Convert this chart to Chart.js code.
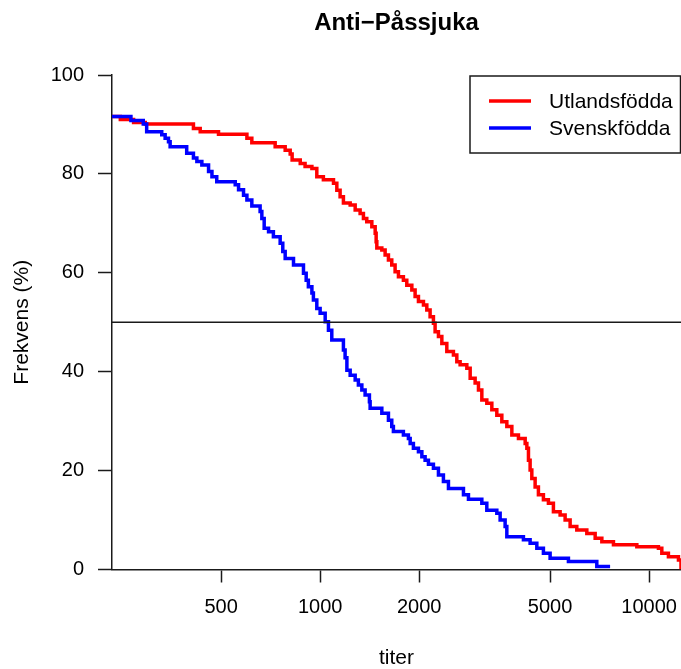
<!DOCTYPE html>
<html>
<head>
<meta charset="utf-8">
<script src="https://cdn.jsdelivr.net/npm/chart.js@4.4.1/dist/chart.umd.min.js"></script>
<style>
  html, body { margin: 0; padding: 0; background: #ffffff; }
  #wrap { width: 681px; height: 669px; position: relative; }
</style>
</head>
<body>
<div id="wrap"><canvas id="c" width="681" height="669"></canvas></div>
<script>
// ---- data ----
const chartTitle = "Anti\u2212Påssjuka";
const xTitle = "titer";
const yTitle = "Frekvens (%)";
const titerTicks = [500, 1000, 2000, 5000, 10000];
const percentTicks = [0, 20, 40, 60, 80, 100];
const titerMin = 233;
const titerMax = 12500;
const refLevel = 50;

const utlandsLabel = "Utlandsfödda";
const utlandsTiter = [233, 247, 271, 294, 412, 432, 491, 599, 620, 730, 783, 811, 822, 870, 900, 944, 977, 1023, 1098, 1124, 1150, 1177, 1234, 1278, 1323, 1354, 1386, 1436, 1470, 1480, 1487, 1540, 1576, 1613, 1651, 1690, 1730, 1791, 1834, 1900, 1944, 1990, 2061, 2110, 2159, 2210, 2236, 2289, 2344, 2427, 2542, 2603, 2664, 2792, 2858, 2959, 3029, 3101, 3211, 3326, 3444, 3567, 3694, 3826, 4007, 4200, 4250, 4298, 4348, 4400, 4503, 4608, 4772, 4942, 5118, 5364, 5555, 5753, 6028, 6466, 6855, 7183, 7791, 9176, 10674, 10929, 11446, 12279, 12500];
const utlandsPct = [91.6, 91.0, 90.4, 90.1, 89.2, 88.5, 88.0, 87.2, 86.3, 85.5, 84.8, 84.0, 82.8, 82.1, 81.5, 81.1, 79.4, 78.8, 78.1, 76.7, 75.4, 74.1, 73.7, 72.7, 72.0, 71.0, 70.3, 69.3, 68.0, 66.3, 65.0, 64.6, 63.6, 62.6, 61.6, 60.2, 59.2, 58.5, 57.5, 56.5, 55.2, 54.2, 53.5, 52.5, 51.1, 49.8, 48.1, 47.1, 45.7, 44.1, 43.4, 42.0, 41.4, 40.7, 38.7, 37.7, 36.3, 34.3, 33.6, 32.3, 31.2, 29.9, 28.9, 27.2, 26.5, 25.5, 24.5, 22.1, 20.1, 18.4, 16.7, 15.1, 14.1, 13.4, 11.7, 11.0, 10.0, 8.7, 8.0, 7.3, 6.3, 5.6, 5.0, 4.6, 4.3, 3.3, 2.6, 1.9, 0];

const svenskLabel = "Svenskfödda";
const svenskTiter = [233, 266, 290, 297, 330, 338, 346, 350, 393, 412, 422, 437, 458, 469, 485, 552, 565, 585, 599, 620, 657, 665, 676, 697, 721, 756, 770, 783, 830, 890, 907, 921, 944, 954, 977, 1000, 1036, 1060, 1085, 1177, 1191, 1206, 1234, 1278, 1307, 1339, 1370, 1412, 1419, 1540, 1613, 1651, 1670, 1791, 1855, 1878, 1921, 1990, 2038, 2085, 2134, 2210, 2289, 2370, 2455, 2727, 2824, 3101, 3211, 3444, 3525, 3650, 3694, 4149, 4348, 4557, 4772, 5001, 5685, 6934, 7610];
const svenskPct = [91.6, 90.8, 90.1, 88.5, 87.9, 87.2, 86.5, 85.5, 84.2, 83.2, 82.5, 81.8, 80.5, 79.4, 78.4, 77.8, 76.8, 75.7, 74.7, 73.5, 72.4, 71.0, 69.0, 68.3, 67.3, 66.0, 64.3, 62.9, 61.6, 59.9, 58.5, 57.2, 55.9, 54.5, 52.8, 51.8, 50.1, 48.4, 46.4, 44.4, 42.8, 40.3, 39.3, 38.3, 37.3, 36.3, 35.3, 33.9, 32.6, 31.6, 30.2, 28.9, 27.9, 27.2, 26.5, 25.5, 24.5, 23.8, 22.8, 22.1, 21.3, 20.5, 19.1, 17.8, 16.4, 15.1, 14.2, 13.4, 12.0, 11.4, 10.0, 8.7, 6.6, 6.0, 5.3, 4.3, 3.3, 2.3, 1.6, 0.6, 0.6];

// ---- build chart ----
const FONT = "'Liberation Sans', Arial, Helvetica, sans-serif";
const AXIS_COLOR = '#1a1a1a';
const toPts = (xs, ys) => xs.map((x, i) => ({ x: x, y: ys[i] }));

const legendBox = {
  id: 'legendBox',
  afterDatasetsDraw(chart) {
    const { ctx, chartArea } = chart;
    const items = chart.data.datasets
      .filter(d => d.legendRank !== undefined)
      .sort((a, b) => a.legendRank - b.legendRank);
    const w = 210.5, h = 77;
    const left = chartArea.right - w - 0.5;
    const top = chartArea.top + 1;
    ctx.save();
    ctx.fillStyle = '#ffffff';
    ctx.fillRect(left, top, w, h);
    ctx.strokeStyle = AXIS_COLOR;
    ctx.lineWidth = 1.5;
    ctx.strokeRect(left, top, w, h);
    ctx.font = '21px ' + FONT;
    ctx.textBaseline = 'middle';
    ctx.textAlign = 'left';
    items.forEach((d, i) => {
      const y = top + 25 + i * 27;
      ctx.strokeStyle = d.borderColor;
      ctx.lineWidth = 3.5;
      ctx.beginPath();
      ctx.moveTo(left + 19, y);
      ctx.lineTo(left + 61, y);
      ctx.stroke();
      ctx.fillStyle = '#000000';
      ctx.fillText(d.label, left + 79, y + 1);
    });
    ctx.restore();
  }
};

new Chart(document.getElementById('c'), {
  type: 'line',
  data: {
    datasets: [
      {
        label: 'ref',
        data: [{ x: titerMin, y: refLevel }, { x: titerMax, y: refLevel }],
        borderColor: AXIS_COLOR,
        borderWidth: 1.5,
        pointRadius: 0,
        order: 0
      },
      {
        label: svenskLabel,
        data: toPts(svenskTiter, svenskPct),
        borderColor: '#0000ff',
        borderWidth: 3.5,
        stepped: 'before',
        pointRadius: 0,
        legendRank: 1,
        order: 1
      },
      {
        label: utlandsLabel,
        data: toPts(utlandsTiter, utlandsPct),
        borderColor: '#ff0000',
        borderWidth: 3.5,
        stepped: 'before',
        pointRadius: 0,
        legendRank: 0,
        order: 2
      }
    ]
  },
  options: {
    responsive: false,
    animation: false,
    devicePixelRatio: 1,
    layout: { padding: 0 },
    plugins: {
      legend: { display: false },
      tooltip: { enabled: false },
      title: {
        display: true,
        text: chartTitle,
        fullSize: false,
        color: '#000000',
        font: { family: FONT, size: 24, weight: 'bold', lineHeight: 1.2 },
        padding: { top: 9.3, bottom: 36.9 }
      }
    },
    scales: {
      x: {
        type: 'logarithmic',
        min: titerMin,
        max: titerMax,
        afterBuildTicks: (s) => { s.ticks = titerTicks.map(v => ({ value: v })); },
        afterFit: (s) => { s.height = 99.5; s.paddingLeft = 0; s.paddingRight = 0; },
        ticks: {
          autoSkip: false,
          maxRotation: 0,
          color: '#000000',
          padding: 12.5,
          font: { family: FONT, size: 20 },
          callback: (v) => String(v)
        },
        grid: {
          drawOnChartArea: false,
          drawTicks: true,
          tickLength: 13,
          tickColor: AXIS_COLOR,
          tickWidth: 1.5
        },
        border: { display: true, color: AXIS_COLOR, width: 1.5 },
        title: {
          display: true,
          text: xTitle,
          color: '#000000',
          font: { family: FONT, size: 21, lineHeight: 1 },
          padding: { top: 0, bottom: 0.5 }
        }
      },
      y: {
        type: 'linear',
        min: 0,
        max: 100,
        afterBuildTicks: (s) => { s.ticks = percentTicks.map(v => ({ value: v })); },
        afterFit: (s) => { s.width = 112; },
        ticks: {
          color: '#000000',
          padding: 14,
          font: { family: FONT, size: 20 },
          callback: (v) => String(v)
        },
        grid: {
          drawOnChartArea: false,
          drawTicks: true,
          tickLength: 14,
          tickColor: AXIS_COLOR,
          tickWidth: 1.5
        },
        border: { display: true, color: AXIS_COLOR, width: 1.5 },
        title: {
          display: true,
          text: yTitle,
          color: '#000000',
          font: { family: FONT, size: 21, lineHeight: 1.2 },
          padding: { top: 10 }
        }
      }
    }
  },
  plugins: [legendBox]
});
</script>
</body>
</html>
